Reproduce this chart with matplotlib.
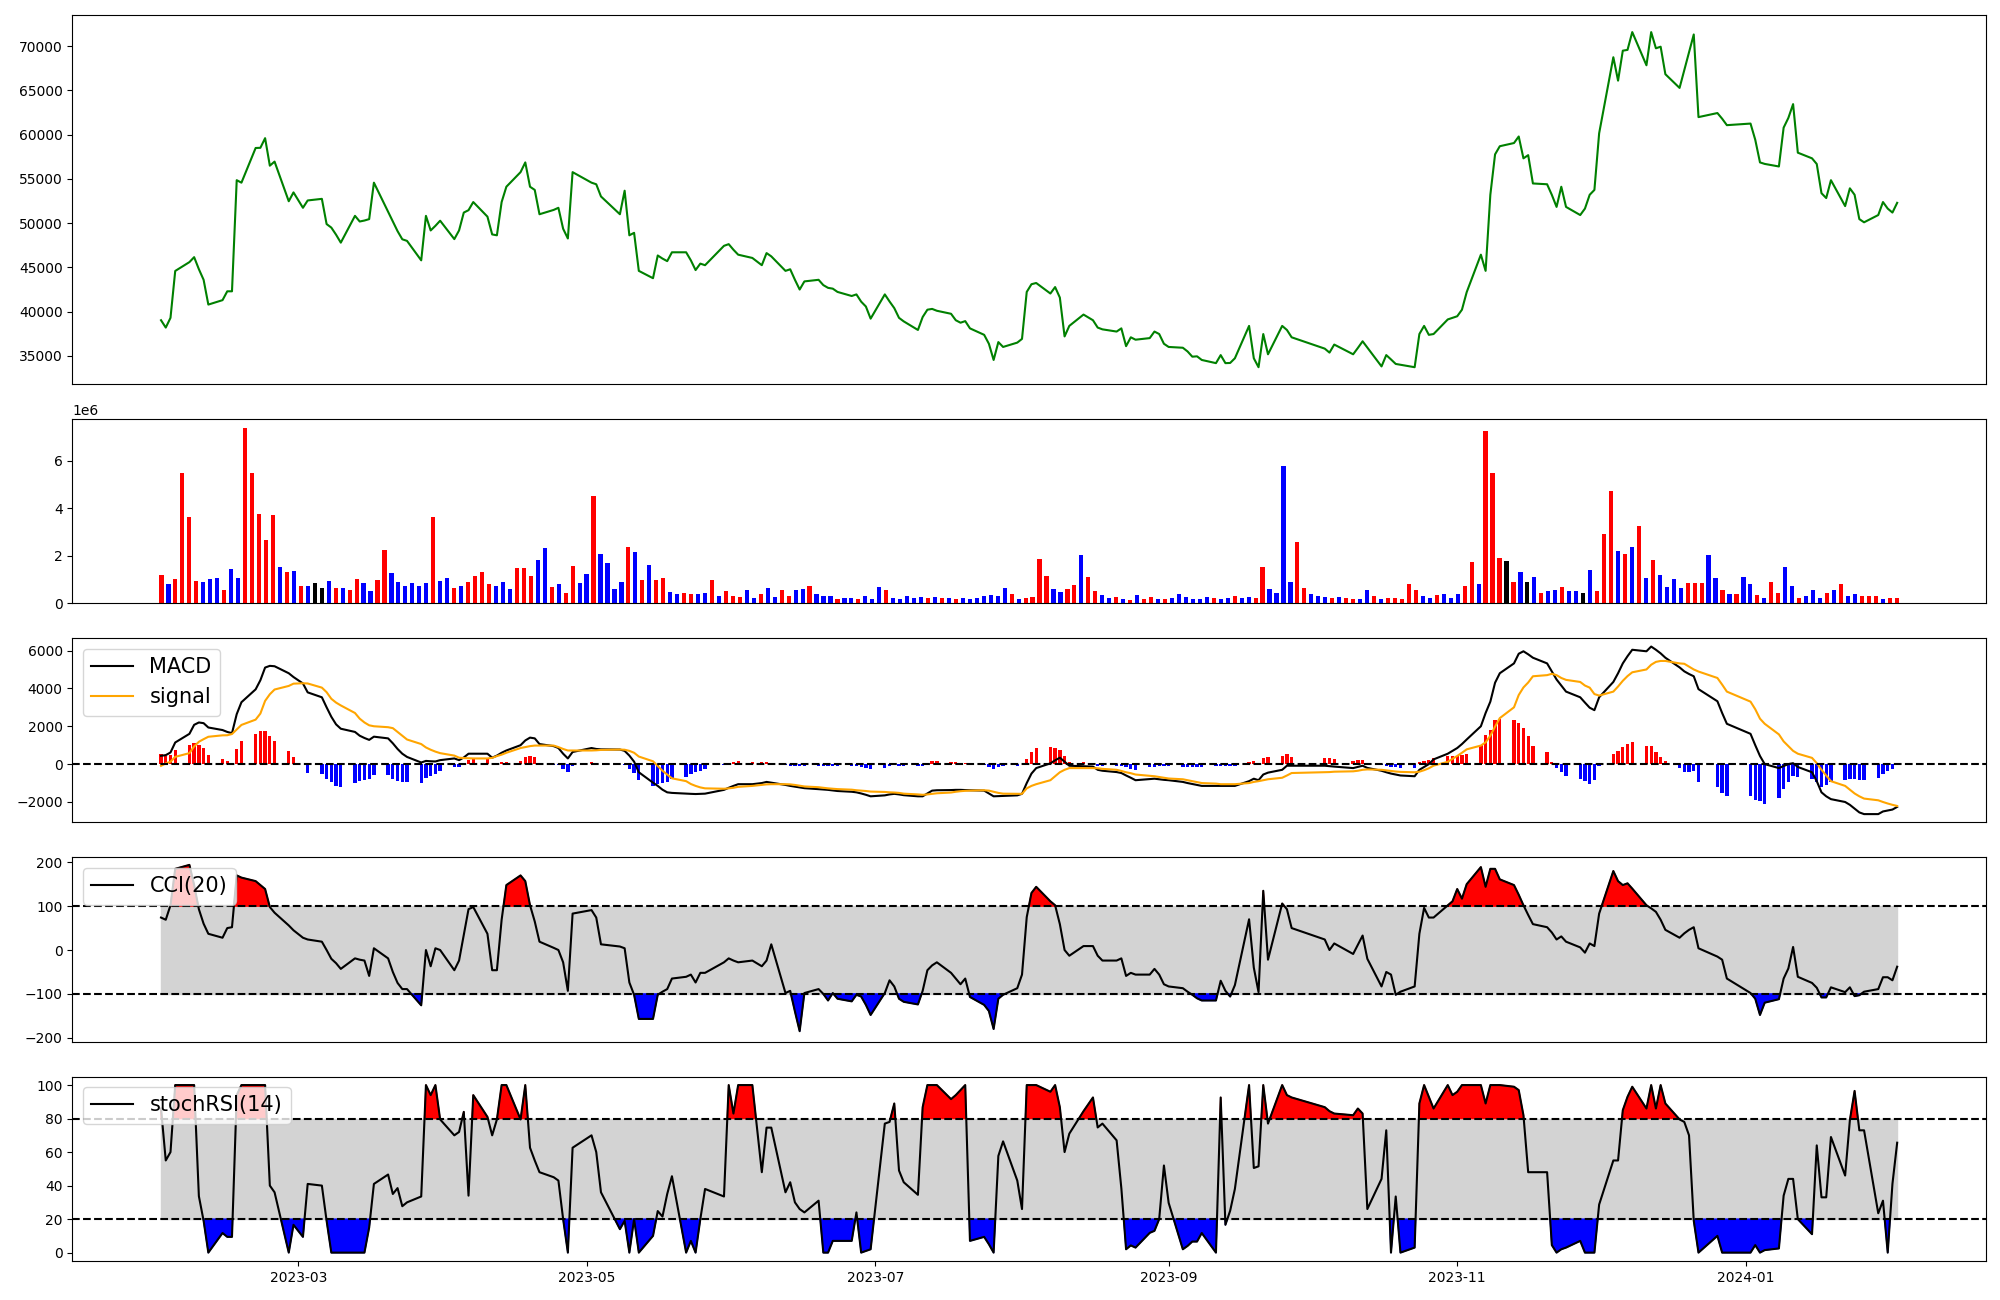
import numpy as np
import pandas as pd
import matplotlib
matplotlib.use("Agg")
import matplotlib.pyplot as plt


# KRX trading days shown on the chart
krx_holidays = ["2023-03-01", "2023-05-01", "2023-05-05", "2023-05-29", "2023-06-06",
                "2023-08-15", "2023-09-28", "2023-09-29", "2023-10-02", "2023-10-03",
                "2023-10-09", "2023-12-25", "2023-12-29", "2024-01-01"]
dates = pd.bdate_range("2023-01-31", "2024-02-02", freq="C", holidays=krx_holidays)

# closing price (one value per trading day, read month by month)
close = [39030,
         38200, 39300, 44600, 45600, 46160, 44800, 43600, 40800, 41300, 42300, 42300, 54860, 54580, 58500, 58520, 59610, 56500, 56960, 52480, 53480,
         51740, 52570, 52750, 49900, 49500, 48700, 47800, 50830, 50190, 50300, 50460, 54580, 51300, 50200, 49100, 48180, 48000, 45800, 50830, 49180, 49700, 50280,
         48200, 49180, 51200, 51470, 52390, 50740, 48730, 48630, 52390, 54120, 55770, 56870, 54120, 53760, 51010, 51500, 51740, 49370, 48270, 55770,
         54580, 54400, 53020, 51010, 53670, 48630, 48910, 44610, 43780, 46350, 46000, 45710, 46710, 46710, 45800, 44700, 45430, 45250, 47440, 47630,
         47000, 46440, 46070, 45250, 46620, 46250, 44610, 44790, 43600, 42500, 43420, 43600, 43000, 42690, 42600, 42230, 41770, 41950, 41130, 40580, 39210,
         41950, 41150, 40400, 39300, 38900, 37930, 39390, 40220, 40310, 40100, 39760, 39030, 38750, 38930, 38110, 37380, 36370, 34540, 36560, 36010, 36500,
         36920, 42230, 43100, 43240, 42050, 42780, 41590, 37200, 38390, 39670, 39030, 38200, 38000, 37750, 38110, 36100, 37100, 36830, 37010, 37750, 37470, 36370,
         36010, 35920, 35500, 34910, 34950, 34540, 34180, 35090, 34180, 34200, 34730, 38390, 34730, 33720, 37470, 35180, 38390, 37930, 37100,
         35820, 35370, 36280, 35180, 35900, 36650, 35940, 33810, 35090, 34600, 34090, 34000, 33720, 37470, 38390, 37380, 37470, 39120, 39300,
         39480, 40220, 42200, 46440, 44610, 53210, 57780, 58700, 59060, 59800, 57330, 57690, 54490, 54400, 53200, 51840, 54120, 51840, 50920, 51650, 53210, 53760,
         60160, 68760, 66110, 69500, 69590, 71600, 67850, 71600, 69770, 69950, 66840, 65290, 67300, 69300, 71330, 61990, 62450, 61810, 61080,
         61260, 59430, 56870, 56700, 56410, 60800, 61900, 63460, 57970, 57330, 56690, 53390, 52840, 54860, 51930, 53940, 53210, 50460, 50100, 50920, 52390, 51650,
         51200, 52300]

# volume in millions of shares
volume_m = [1.18, 0.80, 1.01, 5.49, 3.63, 0.93, 0.89, 1.01, 1.06, 0.55,
            1.44, 1.06, 7.39, 5.49, 3.76, 2.66, 3.72, 1.52, 1.31, 1.35,
            0.72, 0.72, 0.85, 0.63, 0.93, 0.63, 0.63, 0.55, 1.01, 0.85,
            0.51, 0.97, 2.24, 1.27, 0.89, 0.72, 0.85, 0.72, 0.85, 3.63,
            0.93, 1.06, 0.63, 0.72, 0.89, 1.14, 1.31, 0.80, 0.72, 0.89,
            0.59, 1.48, 1.48, 1.14, 1.82, 2.32, 0.68, 0.80, 0.42, 1.56,
            0.85, 1.23, 4.52, 2.07, 1.69, 0.59, 0.89, 2.37, 2.15, 0.97,
            1.61, 0.97, 1.06, 0.46, 0.38, 0.42, 0.38, 0.38, 0.42, 0.97,
            0.30, 0.51, 0.30, 0.25, 0.55, 0.21, 0.38, 0.63, 0.25, 0.55,
            0.30, 0.55, 0.59, 0.72, 0.38, 0.30, 0.30, 0.17, 0.21, 0.21,
            0.17, 0.30, 0.17, 0.68, 0.55, 0.21, 0.17, 0.30, 0.21, 0.25,
            0.21, 0.25, 0.21, 0.21, 0.17, 0.21, 0.17, 0.21, 0.30, 0.34,
            0.30, 0.63, 0.38, 0.17, 0.21, 0.25, 1.86, 1.14, 0.59, 0.46,
            0.59, 0.76, 2.03, 1.10, 0.51, 0.34, 0.21, 0.25, 0.17, 0.13,
            0.34, 0.17, 0.25, 0.17, 0.17, 0.21, 0.38, 0.25, 0.17, 0.17,
            0.25, 0.21, 0.17, 0.21, 0.30, 0.21, 0.25, 0.21, 1.52, 0.59,
            0.42, 5.79, 0.89, 2.58, 0.63, 0.38, 0.30, 0.25, 0.21, 0.25,
            0.21, 0.17, 0.17, 0.55, 0.31, 0.17, 0.21, 0.21, 0.17, 0.82,
            0.55, 0.31, 0.24, 0.34, 0.38, 0.24, 0.38, 0.72, 1.75, 0.82,
            7.26, 5.48, 1.92, 1.78, 0.89, 1.30, 0.89, 1.10, 0.41, 0.51,
            0.55, 0.68, 0.51, 0.51, 0.41, 1.40, 0.51, 2.91, 4.73, 2.19,
            2.09, 2.36, 3.25, 1.06, 1.82, 1.20, 0.68, 1.03, 0.65, 0.86,
            0.86, 0.86, 2.02, 1.06, 0.55, 0.38, 0.38, 1.10, 0.82, 0.34,
            0.24, 0.89, 0.41, 1.54, 0.72, 0.21, 0.31, 0.55, 0.24, 0.41,
            0.55, 0.82, 0.31, 0.38, 0.31, 0.31, 0.31, 0.17, 0.21, 0.21]

# candle direction per day: u = close above open, d = below, n = unchanged
candle = ("udu uuu ddd u" + "ddu uuu udu d" + "udn ndu duu d" + "duu ddd ddd u" + "ddu duu uud d"
          + "duu udd udu u" + "ddu ddd dud u" + "duu ddu udd u" + "duu ud" + "dud duu ddu d"
          + "ddu ddu ddd u" + "ddd ddu dud u" + "ddd ddd dud u" + "uuu ddu udu u" + "ddu dud uud u"
          + "ddd ddd udd u" + "ddu udd ddu u" + "ddd ud" + "uud dud uuu u" + "udd udd duu d"
          + "uuu nud ndu d" + "dud dnd uuu d" + "udu dud ddd u" + "uud dud udd u" + "duu ddu ddd u"
          + "dud duu udu u").replace(" ", "")

macd = [440,
        475, 615, 1143, 1600, 2075, 2200, 2163, 1935, 1800, 1700, 1636, 2640, 3270, 3950, 4430, 5100, 5190, 5170, 4800, 4600,
        4260, 3790, 3530, 3000, 2500, 2100, 1870, 1700, 1500, 1380, 1280, 1450, 1360, 1100, 800, 550, 380, 85, 170, 150, 140, 210,
        300, 210, 350, 550, 550, 550, 340, 450, 600, 720, 1000, 1250, 1400, 1360, 1060, 950, 850, 550, 300, 640,
        850, 800, 780, 770, 700, 450, 130, -430, -980, -1150, -1350, -1490, -1520, -1560, -1570, -1580, -1570, -1560, -1360, -1250,
        -1150, -1060, -1060, -1000, -940, -980, -1100, -1150, -1190, -1230, -1270, -1320, -1340, -1360, -1390, -1420, -1460, -1490, -1550, -1620, -1700,
        -1650, -1600, -1570, -1600, -1640, -1700, -1700, -1550, -1400, -1380, -1370, -1360, -1360, -1370, -1380, -1400, -1550, -1700, -1690, -1680, -1650,
        -1570, -1000, -500, -210, 40, 200, 340, 130, -85, -110, -130, -300, -350, -420, -470, -600, -720, -850, -790, -770, -800, -830,
        -850, -940, -1000, -1050, -1100, -1150, -1150, -1150, -1150, -1150, -1150, -900, -770, -850, -550, -450, -300, -85, -85,
        -85, -110, -130, -210, -150, -85, -200, -350, -430, -500, -550, -600, -640, -300, -150, 0, 250, 550, 700,
        850, 1060, 1300, 2000, 2700, 3300, 4300, 4800, 5320, 5830, 5960, 5800, 5620, 5320, 4900, 4470, 4150, 3830, 3530, 3250, 2980, 2850,
        3530, 4340, 4800, 5320, 5700, 6040, 5960, 6210, 6040, 5850, 5620, 5110, 4900, 4760, 4640, 3960, 3320, 2700, 2130,
        1600, 1000, 430, 0, -210, -100, 0, 50, -150, -430, -900, -1490, -1700, -1850, -2000, -2150, -2350, -2550, -2640, -2640, -2500, -2450,
        -2400, -2260]

signal = [-90,
          35, 125, 383, 580, 935, 1180, 1318, 1445, 1520, 1525, 1590, 1830, 2070, 2350, 2670, 3340, 3690, 3940, 4130, 4250,
          4270, 4260, 4040, 3800, 3450, 3250, 3100, 2700, 2400, 2200, 2050, 2000, 1950, 1900, 1700, 1500, 1300, 1060, 880, 760, 660, 580,
          450, 340, 320, 310, 300, 300, 330, 425, 500, 600, 850, 900, 950, 980, 980, 980, 900, 800, 720, 720,
          720, 730, 750, 770, 760, 700, 600, 400, 150, -100, -350, -550, -750, -900, -1050, -1150, -1230, -1280, -1300, -1280,
          -1250, -1200, -1150, -1100, -1070, -1060, -1060, -1070, -1100, -1140, -1180, -1220, -1250, -1280, -1300, -1320, -1350, -1380, -1400, -1420, -1450,
          -1470, -1490, -1500, -1520, -1560, -1600, -1620, -1600, -1570, -1540, -1500, -1460, -1430, -1410, -1400, -1380, -1400, -1460, -1520, -1560, -1570,
          -1570, -1280, -1150, -1060, -850, -640, -430, -300, -210, -210, -210, -220, -250, -300, -360, -430, -480, -550, -620, -640, -680, -720,
          -760, -800, -850, -900, -950, -1000, -1030, -1060, -1060, -1060, -1060, -1000, -940, -900, -850, -800, -720, -600, -470,
          -430, -420, -400, -380, -350, -300, -280, -300, -330, -360, -390, -410, -430, -400, -320, -220, -80, 120, 280,
          430, 600, 780, 980, 1150, 1500, 1980, 2430, 3000, 3650, 4050, 4310, 4640, 4700, 4770, 4700, 4550, 4450, 4340, 4150, 4040, 3700,
          3620, 3830, 4100, 4400, 4650, 4850, 5000, 5250, 5400, 5450, 5450, 5320, 5300, 5150, 5000, 4890, 4550, 4200, 3830,
          3300, 2900, 2400, 2130, 1570, 1200, 950, 700, 550, 330, 50, -300, -600, -900, -1150, -1350, -1550, -1700, -1820, -1910, -2000, -2080,
          -2150, -2210]

cci = [74,
       69, 102, 185, 194, 148, 93, 60, 37, 28, 50, 52, 170, 165, 157, 148, 139, 98, 85, 56, 45,
       28, 24, 19, 0, -20, -30, -43, -19, -22, -24, -59, 4, -19, -50, -75, -89, -89, -126, 0, -37, 4, 0,
       -46, -24, 35, 93, 98, 37, -46, -46, 69, 148, 170, 157, 102, 65, 19, 5, 0, -28, -93, 83,
       91, 74, 13, 8, 4, -74, -102, -157, -157, -102, -95, -89, -65, -61, -56, -74, -52, -52, -28, -19,
       -24, -28, -24, -37, -24, 13, -98, -93, -140, -185, -98, -89, -100, -115, -98, -111, -117, -102, -106, -125, -148,
       -98, -69, -83, -111, -118, -124, -93, -46, -35, -28, -52, -65, -78, -65, -107, -125, -139, -180, -111, -102, -87,
       -56, 75, 130, 144, 111, 102, 59, 0, -13, 9, 9, -13, -24, -24, -19, -59, -52, -56, -56, -43, -56, -78,
       -83, -87, -95, -102, -110, -115, -115, -70, -93, -106, -80, 70, -40, -96, 135, -22, 106, 93, 50,
       24, 0, 15, -9, 12, 33, -20, -83, -50, -56, -102, -95, -83, 37, 96, 74, 74, 102, 111,
       139, 117, 150, 189, 144, 185, 185, 161, 148, 126, 102, 80, 59, 52, 40, 24, 31, 19, 6, -6, 15, 9,
       83, 180, 157, 148, 152, 140, 102, 95, 87, 69, 46, 28, 38, 46, 52, 4, -15, -22, -65,
       -98, -111, -148, -120, -112, -65, -42, 7, -61, -75, -86, -108, -108, -85, -96, -85, -105, -103, -95, -89, -62, -62,
       -69, -38]

stoch_rsi = [86,
             55, 60, 100, 100, 100, 33.7, 19, 0, 11.7, 9.4, 9.4, 94, 100, 100, 100, 100, 40, 36, 0, 16.6,
             9.4, 41, 40, 19, 0, 0, 0, 0, 0, 0, 15, 41, 46.6, 35, 38.5, 27.7, 30, 33.5, 100, 94, 100, 79.5,
             70, 72, 84, 34, 94, 81, 70, 79.5, 100, 100, 79.5, 100, 62.6, 55, 48, 45, 43, 20, 0, 62.6,
             70, 60, 36, 14, 19, 0, 20, 0, 10, 24.8, 21.5, 35, 45.6, 0, 7, 0, 20, 38, 33.5, 100,
             83, 100, 100, 48, 74.6, 74.6, 36, 42, 30, 26, 24, 31, 0, 0, 7, 7, 7, 24, 0, 1, 2,
             77, 78, 89, 49, 42, 34.5, 86.8, 100, 100, 100, 91.6, 94, 97, 100, 7, 9.4, 5, 0, 57.7, 66.4, 43,
             26, 100, 100, 100, 96, 100, 86.8, 60, 71, 84.4, 92.6, 74.7, 77, 67, 38.4, 2, 4.3, 3, 11.8, 13, 20, 52,
             29.7, 2, 4, 6.6, 6.6, 11.7, 0, 92.6, 16.6, 25, 38, 100, 50.5, 51.5, 100, 77, 100, 94, 92.6,
             86.8, 84.4, 83, 82, 86, 83, 26, 44, 73, 0, 33.5, 0, 3, 89, 100, 93, 86, 100, 94,
             96, 100, 100, 100, 89, 100, 100, 100, 99, 97, 82, 48, 48, 48, 4.5, 0, 2, 3, 7, 0, 0, 0,
             28.7, 55, 55, 85, 93, 99, 86, 100, 86, 100, 89, 79.5, 78, 70, 19, 0, 10, 0, 0,
             0, 4.5, 0, 1.5, 2.5, 34, 44, 44, 20, 11, 64, 33, 33, 69, 46, 79, 96.5, 73, 73, 23.5, 31, 0,
             41, 65.6]


close = np.array(close, dtype=float)
volume = np.array(volume_m) * 1e6
macd = np.array(macd, dtype=float)
signal = np.array(signal, dtype=float)
hist = macd - signal
cci = np.array(cci, dtype=float)
stoch_rsi = np.array(stoch_rsi, dtype=float)

candle_colors = {"u": "red", "d": "blue", "n": "black"}
vol_colors = [candle_colors[c] for c in candle]
hist_colors = ["red" if h >= 0 else "blue" for h in hist]

fig = plt.figure(figsize=(20, 13), dpi=100)
gs = fig.add_gridspec(5, 1, height_ratios=[2, 1, 1, 1, 1],
                      left=0.0362, right=0.9929, top=0.9882, bottom=0.0300, hspace=0.158)
ax_price = fig.add_subplot(gs[0])
ax_vol = fig.add_subplot(gs[1])
ax_macd = fig.add_subplot(gs[2], sharex=ax_price)
ax_cci = fig.add_subplot(gs[3], sharex=ax_price)
ax_rsi = fig.add_subplot(gs[4], sharex=ax_price)

# price
ax_price.plot(dates, close, color="green")

# volume, one bar per session
ax_vol.bar(np.arange(len(volume)), volume, color=vol_colors, width=0.6)

# MACD
ax_macd.bar(dates, hist, color=hist_colors, width=0.7)
ax_macd.plot(dates, macd, color="black", label="MACD")
ax_macd.plot(dates, signal, color="orange", label="signal")
ax_macd.axhline(0, color="black", linestyle="--")
ax_macd.legend(loc="upper left", fontsize=15)

# CCI
ax_cci.fill_between(dates, -100, 100, color="lightgray")
ax_cci.fill_between(dates, cci, 100, where=cci >= 100, interpolate=True, color="red")
ax_cci.fill_between(dates, cci, -100, where=cci <= -100, interpolate=True, color="blue")
ax_cci.plot(dates, cci, color="black", label="CCI(20)")
ax_cci.axhline(100, color="black", linestyle="--")
ax_cci.axhline(-100, color="black", linestyle="--")
ax_cci.set_ylim(-209, 211)
ax_cci.legend(loc="upper left", fontsize=15)

# stochastic RSI
ax_rsi.fill_between(dates, 20, 80, color="lightgray")
ax_rsi.fill_between(dates, stoch_rsi, 80, where=stoch_rsi >= 80, interpolate=True, color="red")
ax_rsi.fill_between(dates, stoch_rsi, 20, where=stoch_rsi <= 20, interpolate=True, color="blue")
ax_rsi.plot(dates, stoch_rsi, color="black", label="stochRSI(14)")
ax_rsi.axhline(80, color="black", linestyle="--")
ax_rsi.axhline(20, color="black", linestyle="--")
ax_rsi.set_ylim(-5, 105)
ax_rsi.legend(loc="upper left", fontsize=15)

for ax in (ax_price, ax_vol, ax_macd, ax_cci):
    ax.tick_params(axis="x", bottom=False, labelbottom=False)

fig.savefig("out.png", dpi=100)
